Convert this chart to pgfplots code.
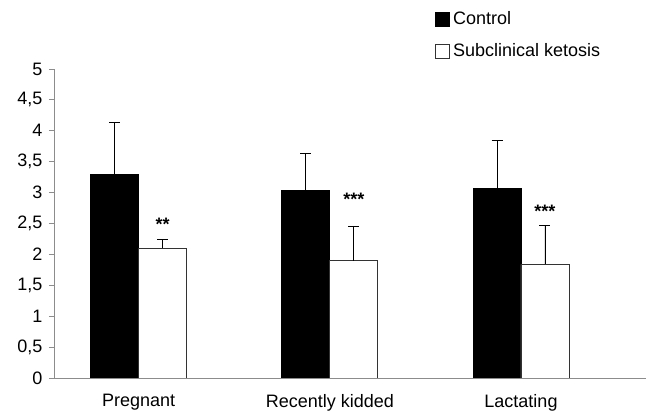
\documentclass[border=0pt]{standalone}
\usepackage{fontspec}
\setmainfont{Liberation Sans}
\usepackage{pgfplots}
\pgfplotsset{compat=1.18}
\newcommand\f{\fontsize{18bp}{21bp}\selectfont}
\definecolor{axisgray}{RGB}{140,140,140}
\pgfplotsset{sq legend/.style={legend image code/.code={\draw[##1] (0bp,-7bp) rectangle (14bp,7bp); \path (17bp,0bp);}}}
\begin{document}
\begin{tikzpicture}
\begin{axis}[
  at={(0,0)}, anchor=south west,
  scale only axis, width=592bp, height=309bp,
  xmin=-0.443, xmax=2.654, ymin=0, ymax=5,
  axis lines*=left,
  axis line style={axisgray, line width=0.8bp},
  xtick={0,1,2}, xticklabels={Pregnant,Recently kidded,Lactating},
  x tick style={draw=none},
  ytick={0,0.5,1,1.5,2,2.5,3,3.5,4,4.5,5},
  y tick style={axisgray, line width=0.8bp},
  tick align=outside, major tick length=5bp,
  tick label style={font=\f},
  x tick label style={yshift=-8bp},
  y tick label style={xshift=-3bp},
  /pgf/number format/.cd, use comma, assume math mode=true, /pgfplots/.cd,
  legend style={at={(0.6436,1.188)}, anchor=north west, draw=none, fill=none,
    inner xsep=0pt, inner ysep=0pt, row sep=15bp,
    nodes={inner sep=0pt, text height=13bp, text depth=4bp, font=\f}},
  legend cell align=left,
]
\addplot[ybar, bar width=48bp, bar shift=0bp, fill=black, draw=black, line width=0.8bp, sq legend,
  error bars/.cd, y dir=plus, y explicit,
  error bar style={black, line width=0.8bp},
  error mark options={rotate=90, mark size=5.5bp, black, line width=0.8bp}]
  coordinates {(-0.1255,3.30) +- (0,0.84) (0.8745,3.03) +- (0,0.60) (1.8745,3.07) +- (0,0.78)};
\addlegendentry{Control}
\addplot[ybar, bar width=48bp, bar shift=0bp, fill=white, draw=black!80, line width=0.8bp, sq legend,
  error bars/.cd, y dir=plus, y explicit,
  error bar style={black, line width=0.8bp},
  error mark options={rotate=90, mark size=5.5bp, black, line width=0.8bp}]
  coordinates {(0.1255,2.10) +- (0,0.14) (1.1255,1.90) +- (0,0.56) (2.1255,1.84) +- (0,0.63)};
\addlegendentry{Subclinical ketosis}
\addplot[forget plot, only marks, mark=none, nodes near coords, point meta=explicit symbolic,
  nodes near coords style={anchor=base, font=\f\bfseries, inner sep=0pt}]
  coordinates {(0.1255,2.39) [**] (1.1255,2.79) [***] (2.1255,2.60) [***]};
\end{axis}
\pgfresetboundingbox
\path (-54bp,-34bp) rectangle (592bp,378bp);
\end{tikzpicture}
\end{document}
